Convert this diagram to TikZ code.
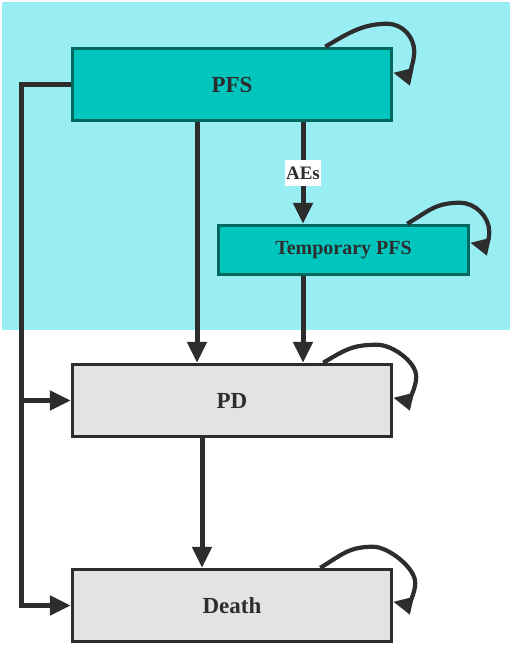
\documentclass[tikz,border=0pt]{standalone}
\usepackage{fontspec}
\setmainfont{Liberation Serif}
\usetikzlibrary{arrows.meta,calc}
\definecolor{bgcyan}{HTML}{99EEF3}
\definecolor{pfsfill}{HTML}{00C6BE}
\definecolor{pfsedge}{HTML}{00695F}
\definecolor{greyfill}{HTML}{E3E3E3}
\definecolor{linec}{HTML}{2D2D2D}
\tikzset{
  statebox/.style={draw, line width=3.5pt, inner sep=0pt, font=\bfseries\fontsize{23}{26}\selectfont, text=linec},
  pfsbox/.style={statebox, fill=pfsfill, draw=pfsedge},
  pdbox/.style={statebox, fill=greyfill, draw=linec},
  arr/.style={line width=5pt, draw=linec, -{Triangle[length=21pt,width=19pt]}},
  loopline/.style={line width=4.2pt, draw=linec, -{Triangle[length=19pt,width=17pt]}},
  aelabel/.style={fill=white, inner xsep=1.5pt, inner ysep=0pt, minimum height=26pt, font=\bfseries\fontsize{19}{22}\selectfont, text=linec}
}
\newcommand{\myloop}[5]{%
  \draw[loopline] ($(#1.north east)+(#2,0)$)
    .. controls ($(#1.north east)+(#2,0)+(22,-13)$) and ($(#1.north east)+(#3)+(-25,0)$) ..
    ($(#1.north east)+(#3)$)
    .. controls ($(#1.north east)+(#3)+(15,0)$) and ($(#1.north east)+(#4)+(0,-15)$) ..
    ($(#1.north east)+(#4)$)
    .. controls ($(#1.north east)+(#4)+(0,12)$) and ($(#1.north east)+(14,#5)+(0,3)$) ..
    ($(#1.north east)+(0,#5)$);}
\begin{document}
\begin{tikzpicture}[x=1pt,y=-1pt]
\useasboundingbox (0,0) rectangle (512,646);
\fill[bgcyan] (2,2) rectangle (510,330);
\node[pfsbox, minimum width=319pt, minimum height=72pt] (PFS) at (232,84.5) {PFS};
\node[pfsbox, minimum width=250pt, minimum height=49pt, font=\bfseries\fontsize{20}{24}\selectfont] (TMP) at (343.5,250) {Temporary PFS};
\node[pdbox, minimum width=319pt, minimum height=72pt] (PD) at (232,400.5) {PD};
\node[pdbox, minimum width=319pt, minimum height=72pt] (DEATH) at (232,605.5) {Death};
% left bus
\coordinate (L1) at (21,84.5);
\coordinate (L2) at (21,400.5);
\draw[arr] (PFS.west) -- (L1) |- (DEATH.west);
\draw[arr] (L2) -- (PD.west);
% vertical arrows
\draw[arr] ([xshift=-35pt]PFS.south) -- ([xshift=-35pt]PD.north);
\draw[arr] ([xshift=71pt]PFS.south) -- ([xshift=71pt]PFS.south |- TMP.north) node[aelabel, midway] (AE) {AEs};
\draw[arr] ([xshift=-40.5pt]TMP.south) -- ([xshift=-40.5pt]TMP.south |- PD.north);
\draw[arr] ([xshift=-30pt]PD.south) -- ([xshift=-30pt]DEATH.north);
% self loops
\myloop{PFS}{-68}{-6,-23}{21,5}{26}
\myloop{TMP}{-63}{-10,-21}{19,8}{19}
\myloop{PD}{-70}{-16,-18}{23,14}{35}
\myloop{DEATH}{-73}{-20,-21}{22,15}{34}
\end{tikzpicture}
\end{document}
